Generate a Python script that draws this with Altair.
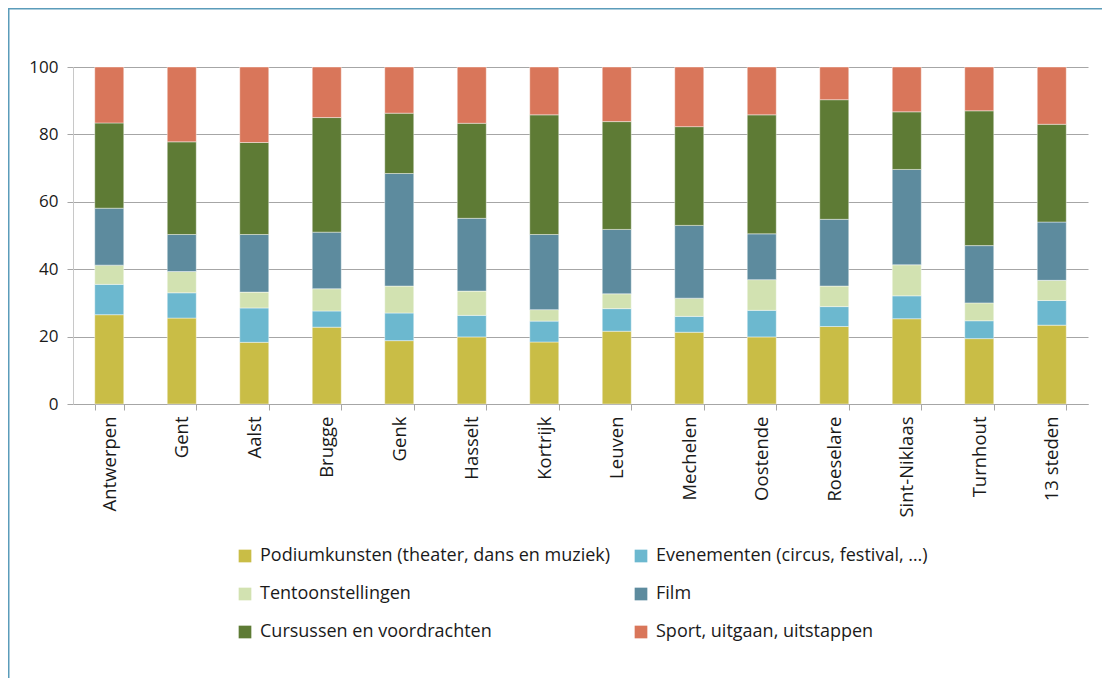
import altair as alt
import pandas as pd

cities = ["Antwerpen", "Gent", "Aalst", "Brugge", "Genk", "Hasselt", "Kortrijk",
          "Leuven", "Mechelen", "Oostende", "Roeselare", "Sint-Niklaas", "Turnhout", "13 steden"]

series = ["Podiumkunsten (theater, dans en muziek)",
          "Evenementen (circus, festival, …)",
          "Tentoonstellingen",
          "Film",
          "Cursussen en voordrachten",
          "Sport, uitgaan, uitstappen"]

colors = ["#C9BD46", "#6CB8CF", "#D2E2B1", "#5D8B9E", "#5E7B35", "#D9765A"]

podium = [26.5, 25.5, 18.3, 22.8, 18.8, 19.9, 18.4, 21.6, 21.3, 19.9, 23.0, 25.3, 19.4, 23.4]
evenementen = [9.0, 7.5, 10.2, 4.8, 8.2, 6.4, 6.2, 6.7, 4.7, 7.9, 5.9, 6.8, 5.3, 7.3]
tentoonstellingen = [5.7, 6.3, 4.7, 6.6, 8.0, 7.2, 3.4, 4.4, 5.4, 9.1, 6.1, 9.2, 5.3, 6.0]
film = [16.9, 11.0, 17.1, 16.8, 33.4, 21.6, 22.3, 19.1, 21.6, 13.6, 19.8, 28.3, 17.0, 17.3]
cursussen = [25.3, 27.5, 27.3, 34.0, 17.9, 28.2, 35.5, 32.0, 29.3, 35.3, 35.5, 17.1, 40.0, 29.0]
sport = [16.6, 22.2, 22.4, 15.0, 13.7, 16.7, 14.2, 16.2, 17.7, 14.2, 9.7, 13.3, 13.0, 17.0]

y_ticks = [0, 20, 40, 60, 80, 100]

values = [podium, evenementen, tentoonstellingen, film, cursussen, sport]
rows = []
for si, (name, vals) in enumerate(zip(series, values)):
    for ci, c in enumerate(cities):
        rows.append({"stad": c, "categorie": name, "waarde": vals[ci], "volgorde": si})
df = pd.DataFrame(rows)

W, H = 1015, 337
PL, PT, PR, PB = 65, 59, 14, 275
FONT = "Open Sans"
TXT = "#1a1a1a"

bars = alt.Chart(df).mark_bar(stroke="white", strokeWidth=0.6, strokeOpacity=0.7).encode(
    x=alt.X("stad:N", sort=cities,
            scale=alt.Scale(paddingInner=0.6, paddingOuter=0.3),
            axis=alt.Axis(title=None, labelAngle=-90, tickBand="extent", tickSize=6,
                          tickColor="#A6A6A6", domainColor="#A6A6A6", labelPadding=6,
                          labelFont=FONT, labelFontSize=18.5, labelColor=TXT, grid=False)),
    y=alt.Y("waarde:Q", stack="zero",
            scale=alt.Scale(domain=[0, 100], nice=False),
            axis=alt.Axis(title=None, values=y_ticks, tickSize=6, tickColor="#A6A6A6",
                          domainColor="#C8C8C8", gridColor="#A6A6A6", gridWidth=1,
                          labelPadding=9, labelFont=FONT, labelFontSize=17, labelColor=TXT)),
    color=alt.Color("categorie:N", sort=series,
                    scale=alt.Scale(domain=series, range=colors),
                    legend=alt.Legend(title=None, orient="none", legendX=163, legendY=480,
                                      direction="horizontal", columns=2,
                                      symbolType="square", symbolSize=161,
                                      symbolStrokeWidth=0, labelFont=FONT, labelFontSize=18,
                                      labelColor=TXT, labelOffset=6, labelLimit=600,
                                      rowPadding=20, columnPadding=21)),
    order=alt.Order("volgorde:Q", sort="ascending"),
)

one = pd.DataFrame({"k": [0]})
left_line = alt.Chart(one).mark_rule(color="#5B9CBA", strokeWidth=1.5).encode(
    x=alt.value(-PL + 0.75), y=alt.value(-PT), y2=alt.value(H + PB))
top_line = alt.Chart(one).mark_rule(color="#5B9CBA", strokeWidth=1.5).encode(
    x=alt.value(-PL), x2=alt.value(W + PR), y=alt.value(-PT + 0.75))

chart = alt.layer(bars, left_line, top_line).properties(
    width=W, height=H,
    padding={"left": PL, "top": PT, "right": PR, "bottom": PB},
    autosize=alt.AutoSizeParams(type="none"),
    background="white",
).configure_view(stroke=None)

chart.save("out.html", embed_options={"renderer": "svg", "actions": False})
